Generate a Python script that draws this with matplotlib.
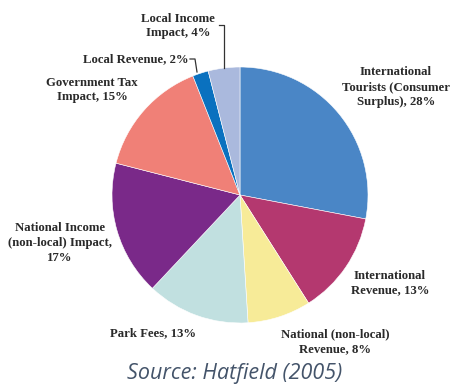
import matplotlib
matplotlib.use("Agg")
import matplotlib.pyplot as plt

labels = [
    "International\nTourists (Consumer\nSurplus), 28%",
    "International\nRevenue, 13%",
    "National (non-local)\nRevenue, 8%",
    "Park Fees, 13%",
    "National Income\n(non-local) Impact,\n17%",
    "Government Tax\nImpact, 15%",
    "Local Revenue, 2%",
    "Local Income\nImpact, 4%",
]
shares = [28, 13, 8, 13, 17, 15, 2, 4]
colors = ["#4A86C6", "#B4386F", "#F7EB98", "#C1E0E0", "#7A2989",
          "#F08077", "#0A71BF", "#AAB9DD"]

# label anchor points in pixel space (x from left, y from top)
label_pos = [(396, 87), (390, 283), (335, 342), (153, 333),
             (60, 243), (92, 90), (136, 59), (178, 26)]

W, H = 451, 390
fig = plt.figure(figsize=(W / 100, H / 100), dpi=100)
ax = fig.add_axes([0, 0, 1, 1])

cx, cy, r = 240, 195, 128
ax.pie(shares, colors=colors, startangle=90, counterclock=False,
       center=(cx, H - cy), radius=r, frame=True,
       wedgeprops=dict(edgecolor="white", linewidth=0.4))
ax.set_xlim(0, W)
ax.set_ylim(0, H)
ax.set_aspect("equal")
ax.axis("off")

for text, (px, py) in zip(labels, label_pos):
    ax.text(px, H - py, text, ha="center", va="center",
            family="Liberation Serif", fontweight="bold", fontsize=9.2,
            color="#2a2a2a", linespacing=1.3)

# leader lines for the two narrow slices
lc = "#333333"
ax.plot([219, 224, 224], [H - 25, H - 25, H - 68], color=lc, lw=0.9)
ax.plot([190, 195, 197], [H - 59, H - 59, H - 72], color=lc, lw=0.9)

ax.text(235, H - 373, "Source: Hatfield (2005)", ha="center", va="center",
        family="Open Sans", style="italic", fontsize=15.5, color="#44546A")

fig.savefig("out.png", dpi=100)
